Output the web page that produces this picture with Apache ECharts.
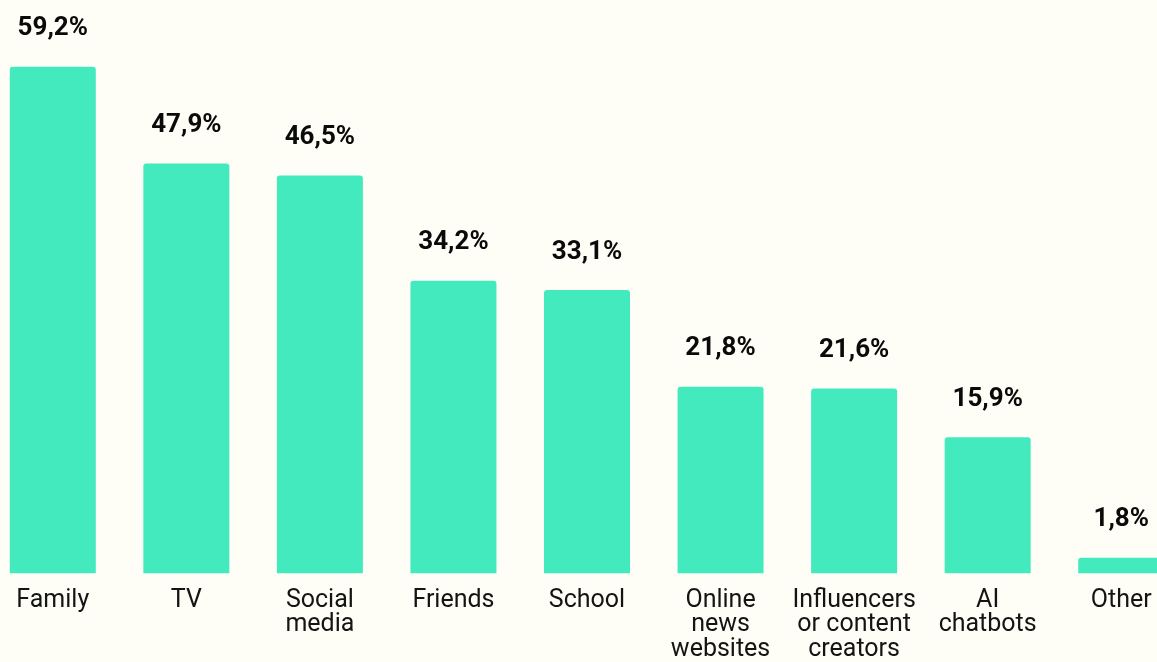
<!DOCTYPE html>
<html>
<head>
<meta charset="utf-8">
<script src="https://cdn.jsdelivr.net/npm/echarts@6/dist/echarts.min.js"></script>
<style>
  html, body { margin: 0; padding: 0; background: #fefef6; overflow: hidden; width: 1157px; height: 662px; }
  /* the plot runs slightly past both edges of the page */
  #chart { position: absolute; left: -14px; top: 0; width: 1202px; height: 662px; }
</style>
</head>
<body>
<div id="chart"></div>
<script>
// Sources of information, share of respondents (%)
const categories = [
  'Family', 'TV', 'Social\nmedia', 'Friends', 'School',
  'Online\nnews\nwebsites', 'Influencers\nor content\ncreators', 'AI\nchatbots', 'Other'
];
const shares = [59.2, 47.9, 46.5, 34.2, 33.1, 21.8, 21.6, 15.9, 1.8];

const chart = echarts.init(document.getElementById('chart'), null, { renderer: 'canvas' });

chart.setOption({
  backgroundColor: '#fefef6',
  animation: false,
  grid: { left: 0, right: 0, top: 60, bottom: 86, containLabel: false },
  xAxis: {
    type: 'category',
    data: categories,
    axisLine: { show: false },
    axisTick: { show: false },
    axisLabel: {
      interval: 0,
      margin: 15,
      color: '#141414',
      fontFamily: 'Roboto',
      fontSize: 25,
      lineHeight: 24.5,
      verticalAlign: 'top'
    }
  },
  yAxis: {
    type: 'value',
    min: 0,
    max: 60,
    show: false,
    splitLine: { show: false }
  },
  series: [{
    type: 'bar',
    data: shares,
    barCategoryGap: '35.6%',
    itemStyle: { color: '#43eabd', borderRadius: [3, 3, 0, 0] },
    label: {
      show: true,
      position: 'top',
      distance: 25,
      color: '#0a0a0a',
      fontFamily: 'Roboto',
      fontWeight: 'bold',
      fontSize: 26,
      formatter: p => p.value.toFixed(1).replace('.', ',') + '%'
    }
  }]
});
</script>
</body>
</html>
